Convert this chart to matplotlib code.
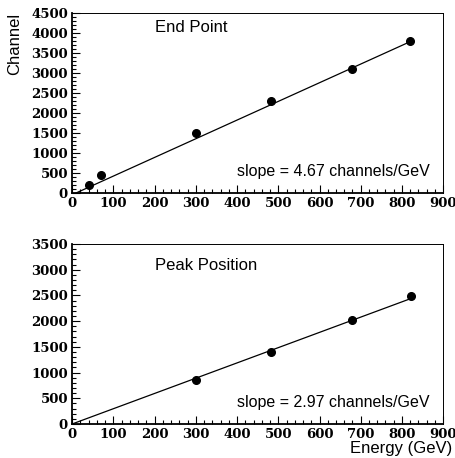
import numpy as np
import matplotlib
matplotlib.use("Agg")
import matplotlib.pyplot as plt
from matplotlib.ticker import MultipleLocator

# Data
END_ENERGY = [40, 70, 300, 482, 680, 820]
END_CHANNEL = [190, 450, 1500, 2300, 3100, 3800]
END_SLOPE = 4.67
END_INTERCEPT = -45

PEAK_ENERGY = [300, 483, 680, 822]
PEAK_CHANNEL = [850, 1400, 2020, 2480]
PEAK_ERR = [30, 30, 40, 70]
PEAK_SLOPE = 2.97
PEAK_INTERCEPT = 0

tick_font = {"family": "DejaVu Serif", "weight": "bold", "size": 9.5}
text_font = {"family": "Liberation Sans", "size": 12}

fig = plt.figure(figsize=(4.56, 4.58), dpi=100)
ax1 = fig.add_axes([0.158, 0.5786, 0.814, 0.393])
ax2 = fig.add_axes([0.158, 0.0742, 0.814, 0.393])


def style_axes(ax, ymax):
	ax.set_xlim(0, 900)
	ax.set_ylim(0, ymax)
	ax.xaxis.set_major_locator(MultipleLocator(100))
	ax.xaxis.set_minor_locator(MultipleLocator(20))
	ax.yaxis.set_major_locator(MultipleLocator(500))
	ax.yaxis.set_minor_locator(MultipleLocator(100))
	ax.tick_params(which="both", direction="in", top=False, right=False, width=0.8)
	ax.tick_params(which="major", length=6, pad=3)
	ax.tick_params(which="minor", length=3)
	for lbl in ax.get_xticklabels() + ax.get_yticklabels():
		lbl.set_fontproperties(matplotlib.font_manager.FontProperties(**tick_font))
	for side in ["left", "bottom"]:
		ax.spines[side].set_linewidth(1.3)
	for side in ["top", "right"]:
		ax.spines[side].set_linewidth(0.7)


for ax, ex, ch, slope, icpt, ymax in [
	(ax1, END_ENERGY, END_CHANNEL, END_SLOPE, END_INTERCEPT, 4500),
	(ax2, PEAK_ENERGY, PEAK_CHANNEL, PEAK_SLOPE, PEAK_INTERCEPT, 3500),
]:
	x0 = max(0, -icpt / slope)
	xs = np.array([x0, max(ex)])
	ax.plot(xs, slope * xs + icpt, color="black", lw=0.9)
	style_axes(ax, ymax)

ax1.plot(END_ENERGY, END_CHANNEL, "o", color="black", ms=5.5)
ax2.errorbar(PEAK_ENERGY, PEAK_CHANNEL, yerr=PEAK_ERR, fmt="o", color="black",
	ms=5.5, elinewidth=0.8, capsize=0)

ax1.text(0.223, 0.92, "End Point", transform=ax1.transAxes, va="center", **text_font)
ax2.text(0.223, 0.883, "Peak Position", transform=ax2.transAxes, va="center", **text_font)
ax1.text(0.444, 0.117, f"slope = {END_SLOPE:.2f} channels/GeV", transform=ax1.transAxes,
	va="center", family="Liberation Sans", size=11.5)
ax2.text(0.444, 0.122, f"slope = {PEAK_SLOPE:.2f} channels/GeV", transform=ax2.transAxes,
	va="center", family="Liberation Sans", size=11.5)

fig.text(15 / 456, 1 - 44 / 458, "Channel", rotation=90, ha="center", va="center", **text_font)
fig.text(452 / 456, 1 - 449 / 458, "Energy (GeV)", ha="right", va="center",
	family="Liberation Sans", size=12)

fig.savefig("out.png", dpi=100)
